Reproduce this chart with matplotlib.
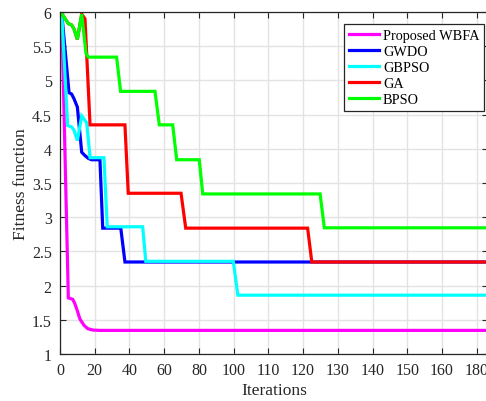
import numpy as np
import matplotlib
matplotlib.use('Agg')
import matplotlib.pyplot as plt
from matplotlib.ticker import FixedLocator, FixedFormatter, MultipleLocator, FormatStrFormatter

# Convergence curves: best fitness per iteration for each algorithm
wbfa_iter = [1, 4.8, 7.3, 8.5, 10, 11.5, 13.8, 16, 19, 23, 185]
wbfa_fit = [5.98, 1.82, 1.80, 1.74, 1.63, 1.51, 1.42, 1.37, 1.35, 1.345, 1.345]

gwdo_iter = [1, 5.2, 6.7, 8.1, 10, 12.5, 14.4, 16.3, 18.2, 23, 24.6, 35, 37.4, 185]
gwdo_fit = [5.98, 4.82, 4.80, 4.73, 4.61, 3.95, 3.90, 3.86, 3.84, 3.84, 2.84, 2.84, 2.345, 2.345]

gbpso_iter = [1, 4.4, 6.7, 8.1, 10, 12.5, 15.4, 17.3, 25.3, 27.2, 47.6, 49.4, 99.8, 101.2, 185]
gbpso_fit = [5.98, 4.34, 4.32, 4.27, 4.12, 4.48, 4.38, 3.87, 3.87, 2.86, 2.86, 2.355, 2.355, 1.86, 1.86]

ga_iter = [1, 4.8, 6.7, 8.1, 10, 12.5, 14.4, 17.3, 37.4, 39.3, 69.7, 72.4, 121.3, 122.5, 185]
ga_fit = [5.98, 5.83, 5.81, 5.75, 5.60, 5.97, 5.90, 4.35, 4.35, 3.35, 3.35, 2.84, 2.84, 2.345, 2.345]

bpso_iter = [1, 4.8, 6.7, 8.1, 10, 12.5, 15, 16.3, 32.6, 34.9, 54.7, 57.2, 64.9, 67.2, 80.2, 82.2, 124.9, 126.1, 185]
bpso_fit = [5.98, 5.83, 5.81, 5.75, 5.60, 5.97, 5.39, 5.34, 5.34, 4.84, 4.84, 4.35, 4.35, 3.84, 3.84, 3.34, 3.34, 2.845, 2.845]

x_ticks = [0, 20, 40, 60, 80, 100, 110, 120, 130, 140, 150, 160, 180]

# the iteration axis is stretched after 100 (ticks are evenly spaced on screen)
_brk_data = [0, 100, 160, 200]
_brk_pos = [0, 5, 11, 13]


def fwd(x):
    return np.interp(x, _brk_data, _brk_pos)


def inv(p):
    return np.interp(p, _brk_pos, _brk_data)


plt.rcParams['font.family'] = ['Liberation Serif', 'DejaVu Serif']

dark = '#262626'
fig = plt.figure(figsize=(4.86, 4.02), dpi=100)
ax = fig.add_axes([60 / 486, 1 - 355 / 402, 428 / 486, 342 / 402])
ax.set_xscale('function', functions=(fwd, inv))

series = [
    (wbfa_iter, wbfa_fit, '#FF00FF', 'Proposed WBFA'),
    (gwdo_iter, gwdo_fit, '#0000FF', 'GWDO'),
    (gbpso_iter, gbpso_fit, '#00FFFF', 'GBPSO'),
    (ga_iter, ga_fit, '#FF0000', 'GA'),
    (bpso_iter, bpso_fit, '#00FF00', 'BPSO'),
]
for xs, ys, col, lab in series:
    ax.plot(xs, ys, color=col, lw=2.3, label=lab, solid_joinstyle='miter')

ax.set_xlim(0, inv(428 / 34.73))
ax.set_ylim(1, 6)
ax.xaxis.set_major_locator(FixedLocator(x_ticks))
ax.xaxis.set_major_formatter(FixedFormatter([str(t) for t in x_ticks]))
ax.yaxis.set_major_locator(MultipleLocator(0.5))
ax.yaxis.set_major_formatter(FormatStrFormatter('%g'))

ax.grid(True, color='#e3e3e3', lw=1.0)
ax.set_axisbelow(True)
ax.tick_params(direction='in', length=4, width=0.8, colors=dark, labelsize=11.5,
               top=True, right=True, pad=6)
for s in ax.spines.values():
    s.set_color(dark)
    s.set_linewidth(0.9)

ax.set_xlabel('Iterations', fontsize=12.5, color=dark, labelpad=3)
ax.set_ylabel('Fitness function', fontsize=12.5, color=dark, labelpad=2)

leg = ax.legend(loc='upper right', bbox_to_anchor=(484 / 486, 1 - 25 / 402),
                bbox_transform=fig.transFigure, borderaxespad=0,
                fontsize=10.3, fancybox=False, framealpha=1, edgecolor=dark,
                handlelength=2.1, handletextpad=0.3, labelspacing=0.22,
                borderpad=0.32)
leg.get_frame().set_linewidth(0.9)

fig.savefig('out.png', dpi=100)
